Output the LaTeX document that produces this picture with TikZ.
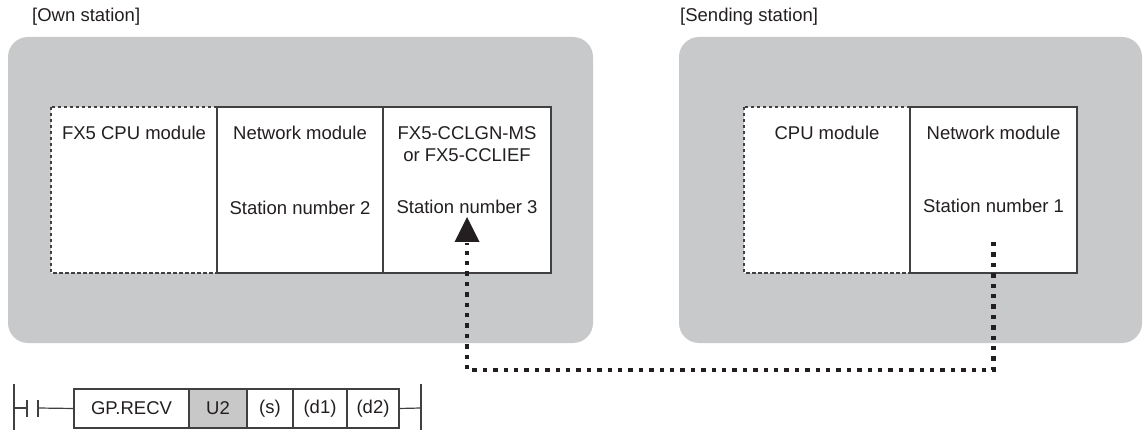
\documentclass[tikz,border=0pt]{standalone}
\usepackage{fontspec}
\setmainfont{Liberation Sans}
\usetikzlibrary{positioning}
\definecolor{panelgray}{RGB}{200,201,203}
\definecolor{cellgray}{RGB}{200,200,200}
\definecolor{edge}{RGB}{64,64,64}
\definecolor{ink}{RGB}{35,31,32}
\tikzset{
  panel/.style={fill=panelgray, draw=none, rounded corners=20pt},
  modbox/.style={draw=edge, line width=1.2pt, fill=white},
  dashbox/.style={draw=edge, line width=1.1pt, fill=white, dash pattern=on 3.5pt off 2.5pt},
  lbl/.style={text=ink, font=\fontsize{18.5}{22}\selectfont, anchor=base, inner sep=0pt},
  cell/.style={draw=edge, line width=1.2pt, minimum height=39pt, inner sep=0pt, text=ink, font=\fontsize{18.5}{22}\selectfont, outer sep=0pt},
  rung/.style={draw=edge, line width=1.2pt},
  netline/.style={draw=ink, line width=4.4pt, dash pattern=on 4.4pt off 6pt, line cap=butt},
}
\begin{document}
\begin{tikzpicture}[x=1pt,y=-1pt]
\useasboundingbox (0,0) rectangle (1143,430);
% titles
\node[lbl, anchor=base west] (t1) at (32,22) {[Own station]};
\node[lbl, anchor=base west] (t2) at (680,22) {[Sending station]};
% panels
\path[panel] (8,37) rectangle (593,343);
\path[panel] (679,37) rectangle (1142,343);
% own station modules
\draw[dashbox] (51,107) rectangle (217,273);
\draw[modbox] (217,107) rectangle (383,273);
\draw[modbox] (383,107) rectangle (551,273);
\node[lbl] (a1) at (134,140) {FX5 CPU module};
\node[lbl] (a2) at (300,140) {Network module};
\node[lbl] (a3) at (300,215) {Station number 2};
\node[lbl] (a4) at (467,140) {FX5-CCLGN-MS};
\node[lbl] (a5) at (467,162) {or FX5-CCLIEF};
\node[lbl] (a6) at (467,214) {Station number 3};
% sending station modules
\draw[dashbox] (744,107) rectangle (910,273);
\draw[modbox] (910,107) rectangle (1077,273);
\node[lbl] (b1) at (827,140) {CPU module};
\node[lbl] (b2) at (993.5,140) {Network module};
\node[lbl] (b3) at (993.5,213) {Station number 1};
% connector
\coordinate (src) at (993.5,242);
\coordinate (c1) at (993.5,370);
\coordinate (c2) at (467,370);
\coordinate (dst) at (467,243);
\draw[netline] (src) -- (c1) -- (c2) -- (dst);
\fill[ink] (467,217) -- (479.5,242) -- (454.5,242) -- cycle;
% ladder
\coordinate (lb1) at (14,384);
\coordinate (lb2) at (14,430);
\draw[rung] (lb1) -- (lb2);
\draw[rung] (14,408) -- (27,408);
\draw[rung] (27,400) -- (27,417);
\draw[rung] (38,400) -- (38,417);
\node[cell, minimum width=115pt, anchor=west] (g1) at (74,408.5) {GP.RECV};
\node[cell, fill=cellgray, minimum width=58pt, anchor=west] (g2) at (g1.east) {U2};
\node[cell, minimum width=46pt, anchor=west] (g3) at (g2.east) {(s)};
\node[cell, minimum width=54pt, anchor=west] (g4) at (g3.east) {(d1)};
\node[cell, minimum width=52pt, anchor=west] (g5) at (g4.east) {(d2)};
\draw[rung] (38,408) -- (g1.west);
\coordinate (rb) at (421,408);
\draw[rung] (g5.east) -- (rb);
\draw[rung] (421,384) -- (421,430);
\end{tikzpicture}
\end{document}
